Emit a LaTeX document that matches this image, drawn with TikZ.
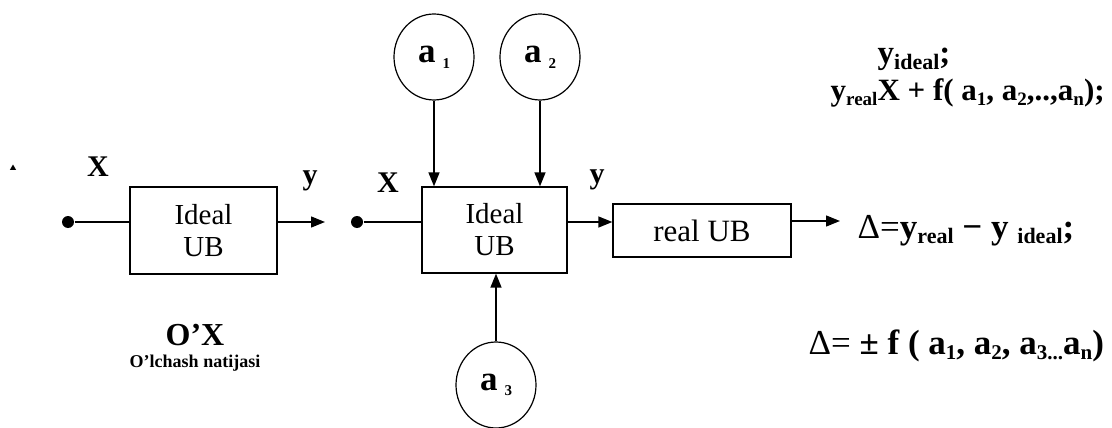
\documentclass[tikz,border=0pt]{standalone}
\usepackage{fontspec}
\setmainfont{Liberation Serif}
\usetikzlibrary{arrows.meta,shapes.geometric}
\newcommand\lowsub[2][20]{\raisebox{-0.35ex}{\fontsize{#1}{#1}\selectfont\bfseries #2}}
\begin{document}
\begin{tikzpicture}[x=1pt,y=-1pt,
  line width=1.4pt,
  blk/.style={draw, line width=1.3pt, inner sep=0pt, font=\fontsize{29}{32}\selectfont, align=center},
  fac/.style={draw, ellipse, minimum width=80pt, minimum height=86pt, inner sep=0pt, line width=1.2pt, font=\fontsize{35}{35}\selectfont\bfseries},
  dotn/.style={circle, fill, inner sep=0pt, minimum size=12pt},
  arr/.style={-{Triangle[length=14pt,width=11pt]}, line width=1.4pt},
  lbl/.style={font=\fontsize{30}{30}\selectfont\bfseries, inner sep=0pt},
  eq/.style={font=\fontsize{31}{31}\selectfont\bfseries, inner sep=0pt, anchor=base west}]
\useasboundingbox (0,0) rectangle (1112,428);
% artifact
\node[regular polygon, regular polygon sides=3, fill, inner sep=0pt, minimum size=7pt] (tri) at (13,168) {};
% left system
\node[dotn] (dL) at (68,222) {};
\node[blk, minimum width=147pt, minimum height=87pt] (boxL) at (203.5,230.5) {Ideal\\UB};
\coordinate (eL) at (325,222);
\draw (dL) -- (dL -| boxL.west);
\draw[arr] (boxL.east |- dL) -- (eL);
\node[lbl] (xL) at (98,167) {X};
\node[lbl] (yL) at (310,181) {y};
\node[font=\fontsize{32}{32}\selectfont\bfseries, inner sep=0pt] (ox) at (195,335) {O’X};
\node[font=\fontsize{18}{18}\selectfont\bfseries, inner sep=0pt] (oxs) at (195,363) {O’lchash natijasi};
% middle system
\node[dotn] (dM) at (357,222) {};
\node[blk, minimum width=145pt, minimum height=86pt] (boxM) at (494.5,230) {Ideal\\UB};
\node[blk, minimum width=178pt, minimum height=53pt, font=\fontsize{31}{31}\selectfont] (realB) at (702,230.5) {real UB};
\coordinate (eR) at (840,221);
\draw (dM) -- (dM -| boxM.west);
\draw[arr] (boxM.east |- dM) -- (realB.west |- dM);
\draw[arr] (realB.east |- eR) -- (eR);
\node[lbl] (xM) at (388,183) {X};
\node[lbl] (yM) at (597,180) {y};
% factors
\node[fac] (a1) at (434,57) {a\hspace{7pt}\lowsub[15]{1}};
\node[fac] (a2) at (540,57) {a\hspace{7pt}\lowsub[15]{2}};
\node[fac] (a3) at (496,385) {a\hspace{7pt}\lowsub[15]{3}};
\draw[arr] (a1.south) -- (a1.south |- boxM.north);
\draw[arr] (a2.south) -- (a2.south |- boxM.north);
\draw[arr] (a3.north) -- (a3.north |- boxM.south);
% formulas
\node[eq, font=\fontsize{33}{33}\selectfont\bfseries] (f1) at (877,64) {y\lowsub[22]{ideal};};
\node[eq] (f2) at (830,101) {y\lowsub[19]{real}X + f( a\lowsub[19]{1}, a\lowsub[19]{2},..,a\lowsub[19]{n});};
\node[eq, font=\fontsize{35}{35}\selectfont\bfseries] (f3) at (857,238) {{\mdseries Δ=}y\lowsub[22]{real} − y \lowsub[22]{ideal};};
\node[eq, font=\fontsize{35}{35}\selectfont\bfseries] (f4) at (808,354) {{\mdseries Δ=} ± f ( a\lowsub[21]{1}, a\lowsub[21]{2}, a\lowsub[21]{3...}a\lowsub[21]{n})};
\end{tikzpicture}
\end{document}
